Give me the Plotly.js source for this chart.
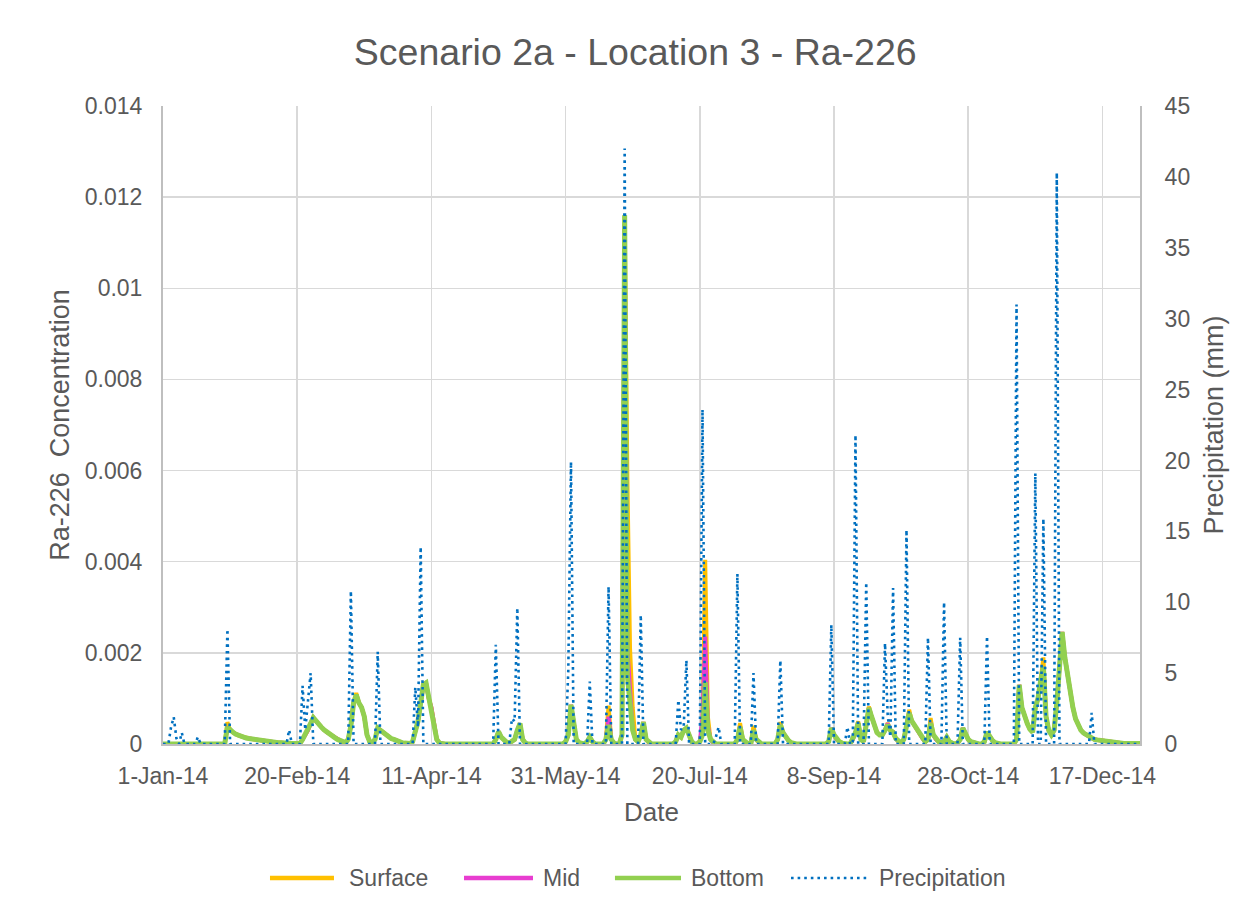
<!DOCTYPE html>
<html><head><meta charset="utf-8">
<script src="https://cdn.plot.ly/plotly-3.0.1.min.js"></script>
<style>html,body{margin:0;padding:0;background:#fff}#chart{width:1248px;height:909px}</style>
</head><body><div id="chart"></div>
<script>
const startDate = [2014, 0, 1];
const seriesNames = ['Surface', 'Mid', 'Bottom', 'Precipitation'];

// Daily precipitation (mm), 1-Jan-14 .. 31-Dec-14, 10 days per row
const precipitation = [
0,0,0,1.2,1.9,0.4,0,0.8,0,0,
0,0,0,0.5,0,0,0,0,0,0,
0,0,0,0,8.1,0,0,0,0,0,
0,0,0,0,0,0,0,0,0,0,
0,0,0,0,0,0,0,1.0,0,0,
0,0,4.1,1.0,3.0,5.0,0,0,0,0,
0,0,0,0,0,0,0,0,0,0,
10.8,0,0,0,0,0,0,0,0,0,
6.5,0,0,0,0,0,0,0,0,0,
0,0,0,0,4.0,1.2,13.9,0,0,0,
0,0,0,0,0,0,0,0,0,0,
0,0,0,0,0,0,0,0,0,0,
0,0,0,0,7.0,0,0,0,0,0,
1.8,1.6,9.6,0,0,0,0,0,0,0,
0,0,0,0,0,0,0,0,0,0,
0,5.2,19.9,0,0,0,0,0,0,4.4,
0,0,0,0,0,0,11.1,0,0,0,
0,0,42.0,0,0,0,0,0,9.1,0,
0,0,0,0,0,0,0,0,0,0,
0,0,3.1,1.0,1.2,5.9,0,0,0,0,
0,23.6,0,0,0,0,0.5,1.2,0,0,
0,0,0,0,12.0,0,0,0,0,0,
5.0,0,0,0,0,0,0,0,0,0,
5.9,0,0,0,0,0,0,0,0,0,
0,0,0,0,0,0,0,0,0,8.4,
0,0,0,0,0,1.2,0,0,21.8,0,
0,0,11.4,0,0,0,0,0,0,7.1,
2.0,0.5,11.0,0,0,0,0,15.1,0,0,
0,0,0,0,0,7.5,0,0,0,0,
0,10.0,0,0,0,0,0,7.5,0,0,
0,0,0,0,0,0,0,7.6,0,0,
0,0,0,0,0,0,0,0,31.0,0,
0,0,0,0,0,19.1,0,0,15.9,0,
0,0,0,40.3,0,0,0,0,0,0,
0,0,0,0,0,0,2.2,0,0,0,
0,0,0,0,0,0,0,0,0,0,
0,0,0,0,0
];

// Daily Ra-226 concentration, bottom
const bottom = [
0,0,0,0,0,0,0,0,0,0,
0,0,0,0,0,0,0,0,0,0,
0,0,0,0,0.00037,0.0003,0.00026,0.00022,0.00019,0.00017,
0.00015,0.00013,0.00012,0.00011,0.0001,0.00009,0.00008,0.00007,0.00006,0.00005,
0.00005,0.00004,0.00004,0.00003,0.00003,0.00002,0.00002,0.00002,0.00001,0.00001,
0.00001,0.00001,0.0001,0.0002,0.0003,0.00045,0.00058,0.0005,0.00043,0.00037,
0.00031,0.00026,0.00022,0.00018,0.00014,0.0001,0.00007,0.00004,0.00003,0.0001,
0.0004,0.0009,0.00108,0.0009,0.0008,0.0006,0.0002,0.00005,0.00003,0.0001,
0.00035,0.0003,0.00025,0.0002,0.00016,0.00012,0.0001,0.00007,0.00005,0.00003,
0.00002,0.00001,0.00001,0.00005,0.00025,0.0005,0.0009,0.0013,0.00134,0.001,
0.0008,0.0004,0.0001,0.00002,0,0,0,0,0,0,
0,0,0,0,0,0,0,0,0,0,
0,0,0,0,0.0001,0.00027,0.00015,0.00008,0.00004,0.00002,
0.00005,0.0001,0.0003,0.00045,0.0001,0.00002,0,0,0,0,
0,0,0,0,0,0,0,0,0,0,
0.00005,0.0002,0.00086,0.0005,0.0001,0.00003,0,0,0.00005,0.00015,
0.00005,0,0,0,0,0.0001,0.00042,0.0001,0.00002,0,
0,0.0002,0.0116,0.0015,0.0008,0.0003,0.0001,0.00005,0.0002,0.00048,
0.0001,0.00003,0,0,0,0,0,0,0,0,
0,0.00005,0.0002,0.00015,0.0003,0.00035,0.0002,0.00005,0,0,
0.00005,0.0002,0.00136,0.0003,0.0001,0.00003,0,0,0,0,
0,0,0,0,0.0001,0.00037,0.0001,0.00003,0,0,
0.0003,0.0001,0.00003,0,0,0,0,0,0,0.0001,
0.00042,0.00025,0.00015,0.00008,0.00003,0,0,0,0,0,
0,0,0,0,0,0,0,0,0.00005,0.00035,
0.0002,0.0001,0.00005,0.00002,0,0,0,0.0001,0.00025,0.00046,
0.0001,0.00005,0.0004,0.00079,0.0006,0.0004,0.00025,0.0002,0.0002,0.0003,
0.00042,0.0003,0.00026,0.00012,0.00005,0.00002,0.0001,0.0004,0.00068,0.0005,
0.0004,0.0003,0.00024,0.00012,0.00005,0.0001,0.00046,0.0002,0.0001,0.00005,
0.00003,0.00005,0.00015,0.00005,0.00002,0,0.00002,0.0001,0.00035,0.0002,
0.0001,0.00005,0.00003,0.00002,0,0,0.00005,0.00026,0.00015,0.00008,
0.00003,0.00001,0,0,0,0,0,0,0.0001,0.0013,
0.0008,0.0006,0.00045,0.00032,0.00026,0.0008,0.001,0.0014,0.0017,0.0006,
0.0003,0.0002,0.0003,0.0009,0.0018,0.00246,0.0019,0.0015,0.0011,0.0008,
0.00055,0.0004,0.0003,0.00024,0.0002,0.00015,0.00013,0.0001,0.00009,0.00008,
0.00007,0.00006,0.00005,0.00004,0.00003,0.00003,0.00002,0.00002,0.00001,0.00001,
0.00001,0.00001,0.00001,0.00001,0.00001
];

// Daily Ra-226 concentration, surface
const surface = [
0,0,0,0,0,0,0,0,0,0,
0,0,0,0,0,0,0,0,0,0,
0,0,0,0,0.00048,0.0003,0.00026,0.00022,0.00019,0.00017,
0.00015,0.00013,0.00012,0.00011,0.0001,0.00009,0.00008,0.00007,0.00006,0.00005,
0.00005,0.00004,0.00004,0.00003,0.00003,0.00002,0.00002,0.00002,0.00001,0.00001,
0.00001,0.00001,0.0001,0.0002,0.0003,0.00045,0.00058,0.0005,0.00043,0.00037,
0.00031,0.00026,0.00022,0.00018,0.00014,0.0001,0.00007,0.00004,0.00003,0.0001,
0.0004,0.0009,0.00112,0.0009,0.0008,0.0006,0.0002,0.00005,0.00003,0.0001,
0.00035,0.0003,0.00025,0.0002,0.00016,0.00012,0.0001,0.00007,0.00005,0.00003,
0.00002,0.00001,0.00001,0.00005,0.00025,0.0005,0.0009,0.0013,0.00134,0.001,
0.0008,0.0004,0.0001,0.00002,0,0,0,0,0,0,
0,0,0,0,0,0,0,0,0,0,
0,0,0,0,0.0001,0.00027,0.00015,0.00008,0.00004,0.00002,
0.00005,0.0001,0.0003,0.00045,0.0001,0.00002,0,0,0,0,
0,0,0,0,0,0,0,0,0,0,
0.00005,0.0002,0.00086,0.0005,0.0001,0.00003,0,0,0.00005,0.00015,
0.00005,0,0,0,0,0.0001,0.00084,0.0001,0.00002,0,
0,0.0002,0.0116,0.0059,0.0021,0.0008,0.0001,0.00005,0.0002,0.00048,
0.0001,0.00003,0,0,0,0,0,0,0,0,
0,0.00005,0.0002,0.00015,0.0003,0.00035,0.0002,0.00005,0,0,
0.00005,0.0004,0.00404,0.0006,0.0001,0.00003,0,0,0,0,
0,0,0,0,0.0001,0.00046,0.0001,0.00003,0,0,
0.0004,0.0001,0.00003,0,0,0,0,0,0,0.0001,
0.00048,0.00025,0.00015,0.00008,0.00003,0,0,0,0,0,
0,0,0,0,0,0,0,0,0.00005,0.00035,
0.0002,0.0001,0.00005,0.00002,0,0,0,0.0001,0.00025,0.0005,
0.0001,0.00005,0.0004,0.00082,0.0006,0.0004,0.00025,0.0002,0.0002,0.0003,
0.00046,0.0003,0.00026,0.00012,0.00005,0.00002,0.0001,0.0004,0.00075,0.0005,
0.0004,0.0003,0.00024,0.00012,0.00005,0.0001,0.00057,0.0002,0.0001,0.00005,
0.00003,0.00005,0.00015,0.00005,0.00002,0,0.00002,0.0001,0.00035,0.0002,
0.0001,0.00005,0.00003,0.00002,0,0,0.00005,0.00026,0.00015,0.00008,
0.00003,0.00001,0,0,0,0,0,0,0.0001,0.0013,
0.0008,0.0006,0.00045,0.00032,0.00026,0.0008,0.001,0.0014,0.0019,0.0006,
0.0003,0.0002,0.0003,0.0009,0.0018,0.00246,0.0019,0.0015,0.0011,0.0008,
0.00055,0.0004,0.0003,0.00024,0.0002,0.00015,0.00013,0.0001,0.00009,0.00008,
0.00007,0.00006,0.00005,0.00004,0.00003,0.00003,0.00002,0.00002,0.00001,0.00001,
0.00001,0.00001,0.00001,0.00001,0.00001
];

// Daily Ra-226 concentration, mid
const mid = [
0,0,0,0,0,0,0,0,0,0,
0,0,0,0,0,0,0,0,0,0,
0,0,0,0,0.00037,0.0003,0.00026,0.00022,0.00019,0.00017,
0.00015,0.00013,0.00012,0.00011,0.0001,0.00009,0.00008,0.00007,0.00006,0.00005,
0.00005,0.00004,0.00004,0.00003,0.00003,0.00002,0.00002,0.00002,0.00001,0.00001,
0.00001,0.00001,0.0001,0.0002,0.0003,0.00045,0.00058,0.0005,0.00043,0.00037,
0.00031,0.00026,0.00022,0.00018,0.00014,0.0001,0.00007,0.00004,0.00003,0.0001,
0.0004,0.0009,0.00108,0.0009,0.0008,0.0006,0.0002,0.00005,0.00003,0.0001,
0.00035,0.0003,0.00025,0.0002,0.00016,0.00012,0.0001,0.00007,0.00005,0.00003,
0.00002,0.00001,0.00001,0.00005,0.00025,0.0005,0.0009,0.0013,0.00134,0.001,
0.0008,0.0004,0.0001,0.00002,0,0,0,0,0,0,
0,0,0,0,0,0,0,0,0,0,
0,0,0,0,0.0001,0.00027,0.00015,0.00008,0.00004,0.00002,
0.00005,0.0001,0.0003,0.00045,0.0001,0.00002,0,0,0,0,
0,0,0,0,0,0,0,0,0,0,
0.00005,0.0002,0.00086,0.0005,0.0001,0.00003,0,0,0.00005,0.00015,
0.00005,0,0,0,0,0.0001,0.0006,0.0001,0.00002,0,
0,0.0002,0.0114,0.0021,0.001,0.0003,0.0001,0.00005,0.0002,0.00048,
0.0001,0.00003,0,0,0,0,0,0,0,0,
0,0.00005,0.0002,0.00015,0.0003,0.00035,0.0002,0.00005,0,0,
0.00005,0.0006,0.00236,0.0004,0.0001,0.00003,0,0,0,0,
0,0,0,0,0.0001,0.00037,0.0001,0.00003,0,0,
0.0003,0.0001,0.00003,0,0,0,0,0,0,0.0001,
0.00042,0.00025,0.00015,0.00008,0.00003,0,0,0,0,0,
0,0,0,0,0,0,0,0,0.00005,0.00035,
0.0002,0.0001,0.00005,0.00002,0,0,0,0.0001,0.00025,0.00046,
0.0001,0.00005,0.0004,0.00079,0.0006,0.0004,0.00025,0.0002,0.0002,0.0003,
0.00045,0.0003,0.00026,0.00012,0.00005,0.00002,0.0001,0.0004,0.00068,0.0005,
0.0004,0.0003,0.00024,0.00012,0.00005,0.0001,0.00046,0.0002,0.0001,0.00005,
0.00003,0.00005,0.00015,0.00005,0.00002,0,0.00002,0.0001,0.00035,0.0002,
0.0001,0.00005,0.00003,0.00002,0,0,0.00005,0.00026,0.00015,0.00008,
0.00003,0.00001,0,0,0,0,0,0,0.0001,0.0013,
0.0008,0.0006,0.00045,0.00032,0.00026,0.0008,0.001,0.0014,0.0017,0.0006,
0.0003,0.0002,0.0003,0.0009,0.0018,0.00246,0.0019,0.0015,0.0011,0.0008,
0.00055,0.0004,0.0003,0.00024,0.0002,0.00015,0.00013,0.0001,0.00009,0.00008,
0.00007,0.00006,0.00005,0.00004,0.00003,0.00003,0.00002,0.00002,0.00001,0.00001,
0.00001,0.00001,0.00001,0.00001,0.00001
];

// consecutive daily dates
const dates = [];
for (let i = 0; i < precipitation.length; i++) {
  const d = new Date(Date.UTC(startDate[0], startDate[1], startDate[2] + i));
  dates.push(d.toISOString().slice(0, 10));
}

const FONT = 'Liberation Sans, Arial, sans-serif';
const GREY = '#595959';

const lineStyles = [
  {color: '#FFC000', width: 4},
  {color: '#E83DD0', width: 4},
  {color: '#92D050', width: 5},
  {color: '#0070C0', width: 2.6, dash: '2.6px,4px'}
];

const traces = [
  {x: dates, y: surface, name: seriesNames[0], type: 'scatter', mode: 'lines', line: lineStyles[0]},
  {x: dates, y: mid, name: seriesNames[1], type: 'scatter', mode: 'lines', line: lineStyles[1]},
  {x: dates, y: bottom, name: seriesNames[2], type: 'scatter', mode: 'lines', line: lineStyles[2]},
  {x: dates, y: precipitation, name: seriesNames[3], type: 'scatter', mode: 'lines', yaxis: 'y2', line: lineStyles[3]}
];

// legend laid out like the original (line sample + label), in paper coordinates
const legendLineX = [[0.1095, 0.1750], [0.3081, 0.3787], [0.4626, 0.5302], [0.6428, 0.7206]];
const legendTextX = [0.1883, 0.3869, 0.5384, 0.7308];
const legendY = -0.21;
const shapes = [];
const annotations = [];
for (let i = 0; i < seriesNames.length; i++) {
  shapes.push({type: 'line', xref: 'paper', yref: 'paper',
    x0: legendLineX[i][0], x1: legendLineX[i][1], y0: legendY, y1: legendY,
    line: Object.assign({}, lineStyles[i], {width: i === 3 ? 2.6 : 4.5})});
  annotations.push({xref: 'paper', yref: 'paper', x: legendTextX[i], y: legendY,
    xanchor: 'left', yanchor: 'middle', showarrow: false, text: seriesNames[i],
    font: {size: 23, color: GREY, family: FONT}});
}

const layout = {
  width: 1248, height: 909,
  paper_bgcolor: '#ffffff', plot_bgcolor: '#ffffff',
  font: {family: FONT, color: GREY, size: 23},
  margin: {l: 163, r: 108, t: 106, b: 165, pad: 0},
  title: {text: 'Scenario 2a - Location 3 - Ra-226', font: {size: 37.5, color: GREY, family: FONT},
          x: 0.509, xref: 'container', xanchor: 'center', y: 0.943, yref: 'container', yanchor: 'middle'},
  showlegend: false,
  shapes: shapes,
  annotations: annotations,
  xaxis: {
    type: 'date', range: ['2014-01-01', '2014-12-31'],
    tick0: '2014-01-01', dtick: 50 * 86400000, tickformat: '%-d-%b-%y',
    showgrid: true, gridcolor: '#D9D9D9', gridwidth: 1.5,
    showline: true, linecolor: '#BFBFBF', linewidth: 2,
    ticks: '', ticklabelstandoff: 10, zeroline: false,
    tickfont: {size: 23, color: GREY},
    title: {text: 'Date', font: {size: 26, color: GREY}, standoff: 15}
  },
  yaxis: {
    range: [0, 0.014], dtick: 0.002, tick0: 0, exponentformat: 'none',
    showgrid: true, gridcolor: '#D9D9D9', gridwidth: 1.5,
    showline: true, linecolor: '#BFBFBF', linewidth: 2,
    ticks: '', ticklabelstandoff: 14, zeroline: false,
    tickfont: {size: 23, color: GREY},
    title: {text: 'Ra-226\u00a0 Concentration', font: {size: 27, color: GREY}, standoff: 7}
  },
  yaxis2: {
    range: [0, 45], dtick: 5, tick0: 0, overlaying: 'y', side: 'right',
    showgrid: false, showline: true, linecolor: '#BFBFBF', linewidth: 2,
    ticks: '', ticklabelstandoff: 18, zeroline: false,
    tickfont: {size: 23, color: GREY},
    title: {text: 'Precipitation (mm)', font: {size: 27, color: GREY}, standoff: 15}
  },
  hovermode: false
};

Plotly.newPlot('chart', traces, layout, {staticPlot: true, displayModeBar: false});
</script>
</body></html>
